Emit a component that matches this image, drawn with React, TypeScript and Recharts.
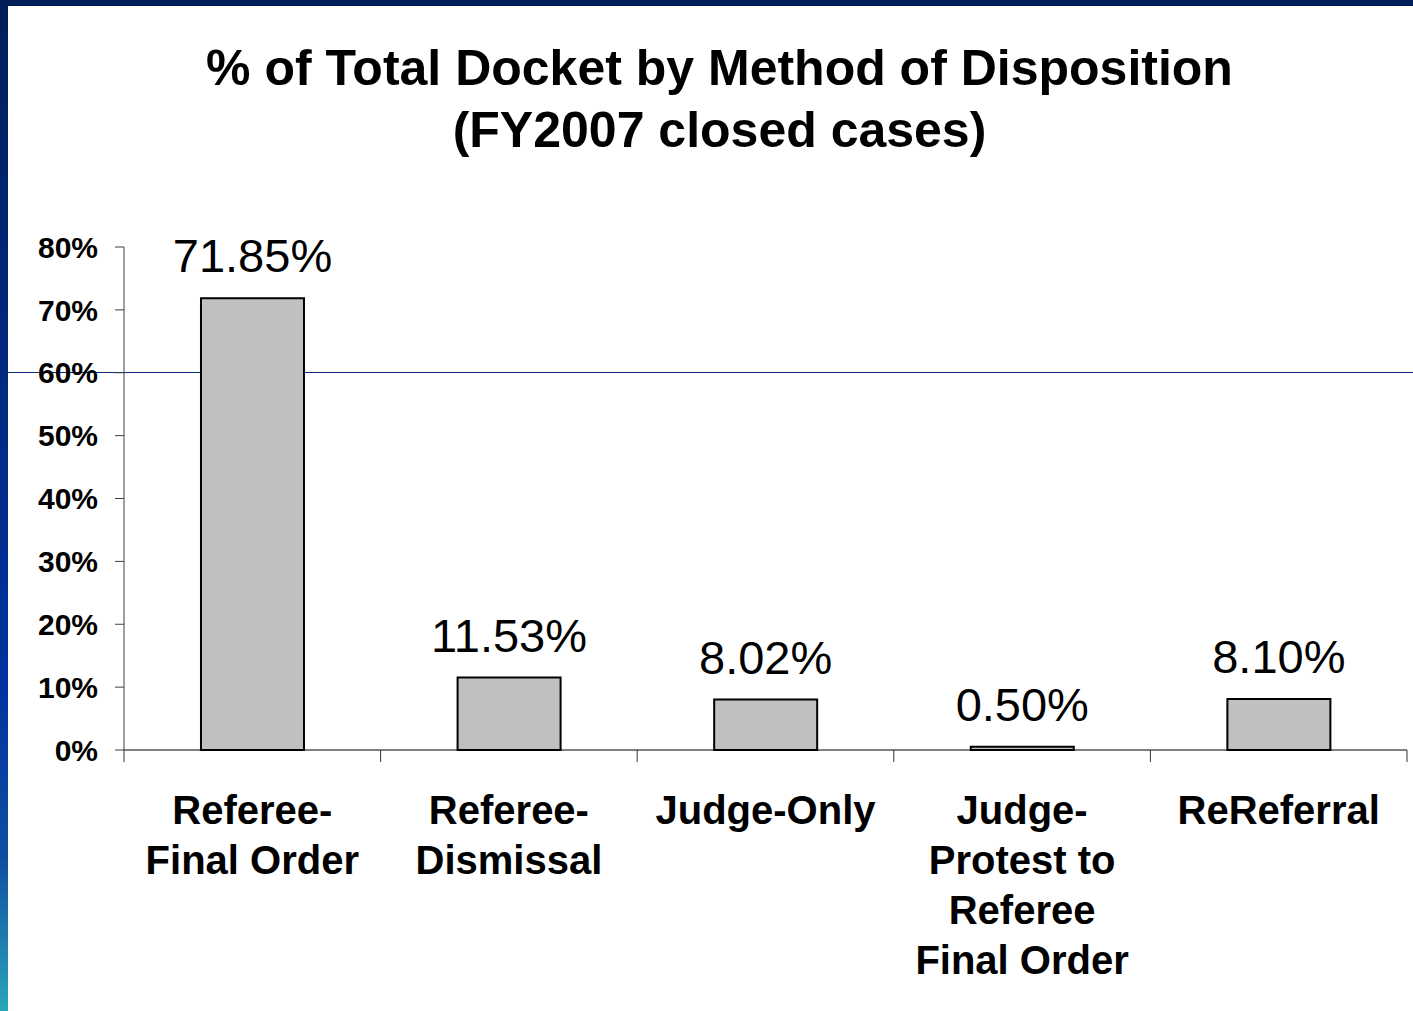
import { BarChart, Bar, XAxis, YAxis, LabelList } from 'recharts'

const categories = [
  'Referee-\nFinal Order',
  'Referee-\nDismissal',
  'Judge-Only',
  'Judge-\nProtest to\nReferee\nFinal Order',
  'ReReferral',
]
const shares = [71.85, 11.53, 8.02, 0.5, 8.1]
const yTicks = [0, 10, 20, 30, 40, 50, 60, 70, 80]
const titleLines = ['% of Total Docket by Method of Disposition', '(FY2007 closed cases)']

const W = 1413
const H = 1011
const MARGIN = { top: 247, right: 6, left: 0, bottom: 0 }
const Y_AXIS_W = 124
const X_AXIS_H = 261
const FONT = '"Liberation Sans", Arial, Helvetica, sans-serif'

const chartData = categories.map((name, i) => ({ name, share: shares[i] }))
const band = (W - MARGIN.left - MARGIN.right - Y_AXIS_W) / categories.length

function CategoryTick(props: any) {
  const { x, y, payload, index } = props
  const lines = String(payload.value).split('\n')
  const half = band / 2
  return (
    <g>
      <line x1={x - half} y1={y} x2={x - half} y2={y + 12} stroke="#333" strokeWidth={1} />
      {index === categories.length - 1 && (
        <line x1={x + half} y1={y} x2={x + half} y2={y + 12} stroke="#333" strokeWidth={1} />
      )}
      <text
        x={x}
        y={y + 74}
        textAnchor="middle"
        fontFamily={FONT}
        fontSize={40}
        fontWeight="bold"
        fill="#000"
      >
        {lines.map((l, i) => (
          <tspan key={i} x={x} dy={i === 0 ? 0 : 50}>
            {l}
          </tspan>
        ))}
      </text>
    </g>
  )
}

export default function App() {
  return (
    <div
      style={{
        position: 'absolute',
        top: 0,
        left: 0,
        width: W,
        height: H,
        background: '#fff',
        overflow: 'hidden',
        fontFamily: FONT,
      }}
    >
      {/* slide frame */}
      <div style={{ position: 'absolute', top: 0, left: 0, width: W, height: 6, background: '#001E5A' }} />
      <div
        style={{
          position: 'absolute',
          top: 0,
          left: 0,
          width: 8,
          height: H,
          background:
            'linear-gradient(to bottom, #001E5A 0%, #00297E 35%, #0033A0 68%, #0F4FA2 85%, #2AA5B9 100%)',
        }}
      />
      <div style={{ position: 'absolute', top: 372, left: 8, width: W - 8, height: 1, background: '#0A2C7E' }} />

      <div
        style={{
          position: 'absolute',
          top: 37,
          left: 17,
          width: W - 8,
          textAlign: 'center',
          fontSize: 50,
          fontWeight: 'bold',
          lineHeight: '62px',
          color: '#000',
        }}
      >
        {titleLines.map(t => (
          <div key={t}>{t}</div>
        ))}
      </div>

      <div style={{ position: 'absolute', top: 0, left: 0 }}>
        <BarChart width={W} height={H} data={chartData} margin={MARGIN} barCategoryGap="30%">
          <XAxis
            dataKey="name"
            height={X_AXIS_H}
            axisLine={{ stroke: '#000', strokeWidth: 1 }}
            tickLine={false}
            tickSize={0}
            tickMargin={0}
            interval={0}
            tick={<CategoryTick />}
          />
          <YAxis
            width={Y_AXIS_W}
            domain={[0, 80]}
            ticks={yTicks}
            interval={0}
            tickFormatter={v => `${v}%`}
            axisLine={{ stroke: '#404040', strokeWidth: 1 }}
            tickLine={{ stroke: '#404040', strokeWidth: 1 }}
            tickSize={9}
            tickMargin={17}
            tick={{ fill: '#000', fontSize: 30, fontWeight: 'bold', fontFamily: FONT }}
          />
          <Bar dataKey="share" fill="#C0C0C0" stroke="#000" strokeWidth={2} isAnimationActive={false}>
            <LabelList
              dataKey="share"
              position="top"
              offset={26}
              formatter={(v: any) => `${Number(v).toFixed(2)}%`}
              style={{ fill: '#000', fontSize: 47, fontFamily: FONT }}
            />
          </Bar>
        </BarChart>
      </div>
    </div>
  )
}
